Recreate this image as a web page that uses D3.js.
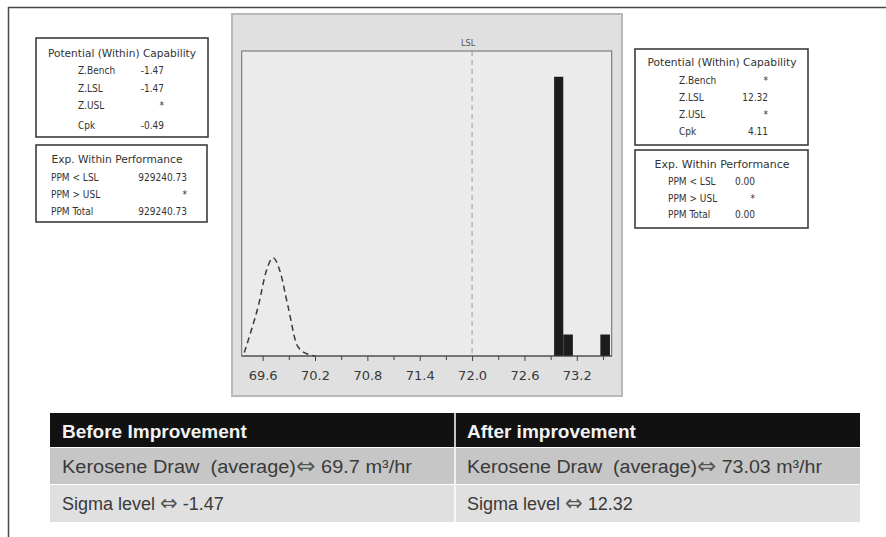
<!DOCTYPE html>
<html>
<head>
<meta charset="utf-8">
<script src="https://cdn.jsdelivr.net/npm/d3@7"></script>
<style>
  html, body { margin: 0; padding: 0; background: #ffffff; }
  svg { display: block; }
</style>
</head>
<body>
<svg id="chart" width="886" height="537"></svg>
<script>
// ---------------- DATA ----------------
const xTickValues = [69.6, 70.2, 70.8, 71.4, 72.0, 72.6, 73.2];
const xMinorTicks = [69.9, 70.5, 71.1, 71.7, 72.3, 72.9, 73.5];
const lslValue = 72.0;
const lslLabel = "LSL";

// histogram bins (after improvement): bin start, bin end, count
const binStart = [72.94, 73.045, 73.47];
const binEnd   = [73.045, 73.155, 73.58];
const binCount = [13, 1, 1];

// fitted curve (before improvement)
const curveX = [69.39, 69.47, 69.55, 69.64, 69.72, 69.80, 69.89, 70.00, 70.12, 70.20];
const curveY = [0.16, 1.20, 2.32, 3.93, 4.57, 3.93, 2.32, 0.46, 0.08, 0.01];

const capTitle = "Potential (Within) Capability";
const perfTitle = "Exp. Within Performance";
const leftCapLabels  = ["Z.Bench", "Z.LSL", "Z.USL", "Cpk"];
const leftCapValues  = ["-1.47", "-1.47", "*", "-0.49"];
const leftPerfLabels = ["PPM < LSL", "PPM > USL", "PPM Total"];
const leftPerfValues = ["929240.73", "*", "929240.73"];
const rightCapLabels  = ["Z.Bench", "Z.LSL", "Z.USL", "Cpk"];
const rightCapValues  = ["*", "12.32", "*", "4.11"];
const rightPerfLabels = ["PPM < LSL", "PPM > USL", "PPM Total"];
const rightPerfValues = ["0.00", "*", "0.00"];

const tableHeaders = ["Before Improvement", "After improvement"];
const tableRow1 = ["Kerosene Draw  (average)\u21D4 69.7 m\u00B3/hr", "Kerosene Draw  (average)\u21D4 73.03 m\u00B3/hr"];
const tableRow2 = ["Sigma level \u21D4 -1.47", "Sigma level \u21D4 12.32"];

// ---------------- DRAW ----------------
const svg = d3.select("#chart");

// outer frame (top and left lines)
svg.append("line").attr("x1", 8).attr("y1", 7.5).attr("x2", 886).attr("y2", 7.5)
  .attr("stroke", "#4a4a4a").attr("stroke-width", 1.5);
svg.append("line").attr("x1", 8.5).attr("y1", 7).attr("x2", 8.5).attr("y2", 537)
  .attr("stroke", "#4a4a4a").attr("stroke-width", 1.5);

// chart panel
const panel = {x: 232, y: 14, w: 390, h: 382};
svg.append("rect").attr("x", panel.x).attr("y", panel.y).attr("width", panel.w).attr("height", panel.h)
  .attr("fill", "#e0e0e0").attr("stroke", "#b8b8b8").attr("stroke-width", 2);

const plot = {l: 241.7, r: 611.7, t: 51, b: 356};
const x = d3.scaleLinear().domain([69.36, 73.6]).range([plot.l, plot.r]);
const y = d3.scaleLinear().domain([0, 14.2]).range([plot.b, plot.t]);

svg.append("rect").attr("x", plot.l).attr("y", plot.t).attr("width", plot.r - plot.l).attr("height", plot.b - plot.t)
  .attr("fill", "#ebebeb").attr("stroke", "#6a6a6a").attr("stroke-width", 1);

// bars
svg.append("g").selectAll("rect").data(binCount).join("rect")
  .attr("x", (d, i) => x(binStart[i]))
  .attr("width", (d, i) => x(binEnd[i]) - x(binStart[i]))
  .attr("y", d => y(d))
  .attr("height", d => y(0) - y(d))
  .attr("fill", "#1c1c1c");

// LSL line
svg.append("line").attr("x1", x(lslValue)).attr("x2", x(lslValue)).attr("y1", plot.t).attr("y2", plot.b)
  .attr("stroke", "#9a9a9a").attr("stroke-width", 1).attr("stroke-dasharray", "5,4");
svg.append("text").attr("x", x(lslValue) - 4).attr("y", 46).attr("text-anchor", "middle")
  .attr("font-family", "DejaVu Sans Condensed, DejaVu Sans, sans-serif").attr("font-size", 9).attr("fill", "#555")
  .text(lslLabel);

// curve
const curveData = curveX.map((v, i) => [v, curveY[i]]);
svg.append("path").datum(curveData)
  .attr("d", d3.line().x(d => x(d[0])).y(d => y(d[1])).curve(d3.curveMonotoneX))
  .attr("fill", "none").attr("stroke", "#3a3a3a").attr("stroke-width", 1.5).attr("stroke-dasharray", "6,4");

// x axis
const axisG = svg.append("g").attr("transform", `translate(0,${plot.b})`);
axisG.append("line").attr("x1", plot.l).attr("x2", plot.r).attr("stroke", "#444").attr("stroke-width", 1.2);
const axis = d3.axisBottom(x).tickValues(xTickValues).tickFormat(d3.format(".1f")).tickSize(5).tickPadding(10);
axisG.call(axis);
axisG.select(".domain").remove();
axisG.selectAll(".tick line").attr("stroke", "#444");
axisG.selectAll(".tick text").attr("font-family", "DejaVu Sans, sans-serif").attr("font-size", 13).attr("fill", "#3a3a3a");
const minorAxis = d3.axisBottom(x).tickValues(xMinorTicks).tickFormat("").tickSize(4);
const minorG = svg.append("g").attr("transform", `translate(0,${plot.b})`).call(minorAxis);
minorG.select(".domain").remove();
minorG.selectAll(".tick line").attr("stroke", "#444");

// ---------------- TEXT BOXES ----------------
const boxFont = "DejaVu Sans Condensed, Liberation Sans Narrow, sans-serif";
function statBox(rect, title, titleX, titleY, titleW, labels, values, labelX, valueX, rowsY) {
  const g = svg.append("g");
  g.append("rect").attr("x", rect[0]).attr("y", rect[1]).attr("width", rect[2]).attr("height", rect[3])
    .attr("fill", "#ffffff").attr("stroke", "#3c3c3c").attr("stroke-width", 1.6);
  g.append("text").attr("x", titleX).attr("y", titleY).attr("text-anchor", "middle")
    .attr("font-family", boxFont).attr("font-size", 10).attr("fill", "#333")
    .attr("textLength", titleW).attr("lengthAdjust", "spacingAndGlyphs").text(title);
  g.selectAll("text.lab").data(labels).join("text").attr("class", "lab")
    .attr("x", labelX).attr("y", (d, i) => rowsY[i])
    .attr("font-family", boxFont).attr("font-size", 10).attr("fill", "#333").text(d => d);
  g.selectAll("text.val").data(values).join("text").attr("class", "val")
    .attr("x", valueX).attr("y", (d, i) => rowsY[i]).attr("text-anchor", "end")
    .attr("font-family", boxFont).attr("font-size", 10).attr("fill", "#333").text(d => d);
}
statBox([36, 38, 172, 99], capTitle, 122, 57, 148, leftCapLabels, leftCapValues, 78, 164, [74, 92, 109, 129]);
statBox([36, 145, 171, 77], perfTitle, 117, 163, 131, leftPerfLabels, leftPerfValues, 51, 187, [181, 198, 215]);
statBox([635, 49, 173, 96], capTitle, 722, 66, 149, rightCapLabels, rightCapValues, 679, 768, [84, 101, 118, 135]);
statBox([635, 150, 173, 78], perfTitle, 722, 168, 135, rightPerfLabels, rightPerfValues, 668, 755, [185, 202, 218]);

// ---------------- TABLE ----------------
const colX = [50, 455, 860];
const rowY = [413, 447, 484, 522];
const tg = svg.append("g");
tg.append("rect").attr("x", colX[0]).attr("y", rowY[0]).attr("width", colX[2] - colX[0]).attr("height", rowY[1] - rowY[0]).attr("fill", "#111");
tg.append("rect").attr("x", colX[0]).attr("y", rowY[1] + 1).attr("width", colX[2] - colX[0]).attr("height", rowY[2] - rowY[1] - 1).attr("fill", "#c6c6c6");
tg.append("rect").attr("x", colX[0]).attr("y", rowY[2] + 1).attr("width", colX[2] - colX[0]).attr("height", rowY[3] - rowY[2] - 1).attr("fill", "#e0e0e0");
tg.append("line").attr("x1", colX[1]).attr("x2", colX[1]).attr("y1", rowY[0]).attr("y2", rowY[3]).attr("stroke", "#ffffff").attr("stroke-width", 1.5);

const tFont = "Liberation Sans, Arial, sans-serif";
function cellText(str, tx, ty, len) {
  const parts = str.split("\u21D4");
  const t = tg.append("text").attr("x", tx).attr("y", ty)
    .attr("font-family", tFont).attr("font-size", 18).attr("fill", "#3a3a3a")
    .style("white-space", "pre").attr("xml:space", "preserve");
  if (len) t.attr("textLength", len).attr("lengthAdjust", "spacingAndGlyphs");
  t.append("tspan").text(parts[0]);
  t.append("tspan").attr("font-family", "DejaVu Sans, sans-serif").attr("font-size", 21).attr("fill", "#555").text("\u21D4");
  t.append("tspan").text(parts[1]);
}
[0, 1].forEach(c => {
  tg.append("text").attr("x", colX[c] + 12).attr("y", rowY[0] + 25)
    .attr("font-family", tFont).attr("font-size", 19).attr("font-weight", "bold").attr("fill", "#f2f2f2")
    .text(tableHeaders[c]);
  cellText(tableRow1[c], colX[c] + 12, rowY[1] + 26, c === 0 ? 350 : 355);
  cellText(tableRow2[c], colX[c] + 12, rowY[2] + 26, null);
});
</script>
</body>
</html>
